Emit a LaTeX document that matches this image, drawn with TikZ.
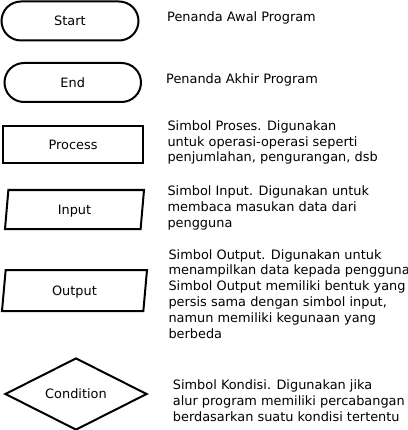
\documentclass[tikz,border=0pt]{standalone}
\usepackage{fontspec}
\setmainfont{DejaVu Sans}
\usetikzlibrary{shapes.misc,shapes.geometric}
\begin{document}
\begin{tikzpicture}[x=1pt,y=-1pt,
  every node/.style={font=\fontsize{12.9}{15.8}\selectfont},
  sym/.style={draw=black,line width=2pt,inner sep=0pt,text height=9.4pt,text depth=0pt},
  term/.style={sym,rounded rectangle},
  proc/.style={sym,rectangle},
  io/.style={sym,trapezium,trapezium stretches body},
  cond/.style={sym,diamond},
  desc/.style={anchor=base west,align=left,inner sep=0pt}]
\useasboundingbox (0,0) rectangle (407,430);
\clip (0,0) rectangle (407,430);
\node[term,minimum width=137pt,minimum height=39pt] (start) at (70,21) {Start};
\node[term,minimum width=136.5pt,minimum height=39pt] (end) at (72.75,82.5) {End};
\node[proc,minimum width=140pt,minimum height=37.5pt] (process) at (73,144.75) {Process};
\node[io,trapezium left angle=70.25,trapezium right angle=109.75,minimum width=139pt,minimum height=39pt] (input) at (74.5,209.5) {Input};
\node[io,trapezium left angle=68.7,trapezium right angle=111.3,minimum width=145pt,minimum height=41pt] (output) at (74.5,290.5) {Output};
\node[cond,minimum width=142pt,minimum height=72pt] (condition) at (76,394) {Condition};
\node[desc] (dstart) at (167,21.3) {Penanda Awal Program};
\node[desc] (dend) at (166,83.3) {Penanda Akhir Program};
\node[desc] (dprocess) at (167.3,161.9) {Simbol Proses. Digunakan\\untuk operasi-operasi seperti\\penjumlahan, pengurangan, dsb};
\node[desc] (dinput) at (167.3,227.2) {Simbol Input. Digunakan untuk\\membaca masukan data dari\\pengguna};
\node[desc] (doutput) at (168.3,338) {Simbol Output. Digunakan untuk\\menampilkan data kepada pengguna.\\Simbol Output memiliki bentuk yang\\persis sama dengan simbol input,\\namun memiliki kegunaan yang\\berbeda};
\node[desc,font=\fontsize{12.9}{16.3}\selectfont] (dcondition) at (172.7,421.7) {Simbol Kondisi. Digunakan jika\\alur program memiliki percabangan\\berdasarkan suatu kondisi tertentu};
\end{tikzpicture}
\end{document}
